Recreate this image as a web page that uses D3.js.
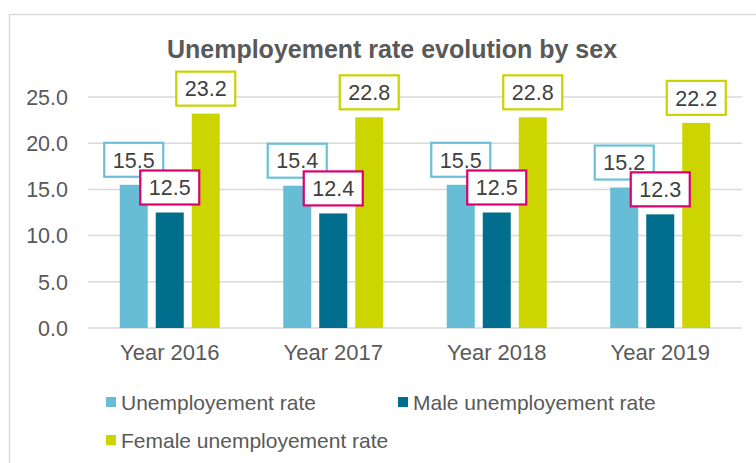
<!DOCTYPE html>
<html>
<head>
<meta charset="utf-8">
<script src="https://cdn.jsdelivr.net/npm/d3@7/dist/d3.min.js"></script>
<style>
  html, body { margin: 0; padding: 0; background: #fff; }
  svg { display: block; font-family: "Liberation Sans", Arial, sans-serif; }
</style>
</head>
<body>
<svg id="chart" width="756" height="463"></svg>
<script>
// Data
const years = ["Year 2016", "Year 2017", "Year 2018", "Year 2019"];
const seriesNames = ["Unemployement rate", "Male unemployement rate", "Female unemployement rate"];
const totalRate = [15.5, 15.4, 15.5, 15.2];
const maleRate = [12.5, 12.4, 12.5, 12.3];
const femaleRate = [23.2, 22.8, 22.8, 22.2];
const yTicks = [0, 5, 10, 15, 20, 25];

const barColors = ["#67bdd6", "#006e8c", "#cdd500"];
const labelBorders = ["#6bc0d8", "#d9006f", "#c9d300"];
const seriesValues = [totalRate, maleRate, femaleRate];

const svg = d3.select("#chart");

// Outer frame
svg.append("rect")
  .attr("x", 9.5).attr("y", 14.5)
  .attr("width", 800).attr("height", 500)
  .attr("fill", "none").attr("stroke", "#d9d9d9").attr("stroke-width", 1.5);

// Title
svg.append("text")
  .attr("x", 392).attr("y", 58)
  .attr("text-anchor", "middle")
  .attr("font-size", 25).attr("font-weight", "bold")
  .attr("fill", "#595959")
  .text("Unemployement rate evolution by sex");

const plot = { left: 88, right: 742, top: 97, bottom: 328 };

const x = d3.scaleBand().domain(years).range([plot.left, plot.right]).paddingInner(0).paddingOuter(0);
const y = d3.scaleLinear().domain([0, 25]).range([plot.bottom, plot.top]);

// Gridlines
svg.append("g").selectAll("line").data(yTicks).join("line")
  .attr("x1", plot.left).attr("x2", plot.right)
  .attr("y1", d => y(d)).attr("y2", d => y(d))
  .attr("stroke", "#d9d9d9").attr("stroke-width", 1.5);

// Y axis labels
const yAxis = d3.axisLeft(y).tickValues(yTicks).tickFormat(d3.format(".1f")).tickSize(0).tickPadding(0);
const gy = svg.append("g").attr("transform", "translate(68,0)").call(yAxis);
gy.select(".domain").remove();
gy.selectAll("text")
  .attr("font-size", 21.5).attr("fill", "#595959")
  .attr("font-family", "Liberation Sans, Arial, sans-serif")
  .attr("dy", "0.34em");

// X axis labels
const xAxis = d3.axisBottom(x).tickSize(0).tickPadding(0);
const gx = svg.append("g").attr("transform", "translate(0,344)").call(xAxis);
gx.select(".domain").remove();
gx.selectAll("text")
  .attr("font-size", 22).attr("fill", "#595959")
  .attr("font-family", "Liberation Sans, Arial, sans-serif")
  .attr("dy", "0.72em");

// Bars within each year
const barW = 28, gap = 8;
const inner = d3.scaleBand().domain(d3.range(3))
  .range([-(3 * barW + 2 * gap) / 2, (3 * barW + 2 * gap) / 2])
  .paddingInner(gap / (barW + gap)).paddingOuter(0);

const rows = [];
years.forEach((yr, i) => {
  seriesValues.forEach((vals, s) => rows.push({ yr, s, v: vals[i] }));
});

svg.append("g").selectAll("rect").data(rows).join("rect")
  .attr("x", d => x(d.yr) + x.bandwidth() / 2 + inner(d.s))
  .attr("y", d => y(d.v))
  .attr("width", inner.bandwidth())
  .attr("height", d => y(0) - y(d.v))
  .attr("fill", d => barColors[d.s]);

// Value labels in boxes above bars
const labelG = svg.append("g");
rows.forEach(d => {
  const cx = x(d.yr) + x.bandwidth() / 2 + inner(d.s) + inner.bandwidth() / 2;
  const bottom = y(d.v) - 8;
  const g = labelG.append("g");
  const boxW = 59, boxH = 34;
  g.append("rect")
    .attr("x", cx - boxW / 2).attr("y", bottom - boxH)
    .attr("width", boxW).attr("height", boxH)
    .attr("fill", "#fff").attr("stroke", labelBorders[d.s]).attr("stroke-width", 2.2);
  g.append("text")
    .attr("x", cx).attr("y", bottom - boxH / 2)
    .attr("dy", "0.36em")
    .attr("text-anchor", "middle")
    .attr("font-size", 21.5).attr("fill", "#404040")
    .text(d3.format(".1f")(d.v));
});

// Legend
const legendPos = [
  { x: 106, y: 397 },
  { x: 398, y: 397 },
  { x: 106, y: 435 }
];
const lg = svg.append("g");
seriesNames.forEach((name, s) => {
  const p = legendPos[s];
  lg.append("rect").attr("x", p.x).attr("y", p.y).attr("width", 10).attr("height", 10).attr("fill", barColors[s]);
  lg.append("text").attr("x", p.x + 15).attr("y", p.y + 5).attr("dy", "0.36em")
    .attr("font-size", 21).attr("fill", "#595959").text(name);
});
</script>
</body>
</html>
